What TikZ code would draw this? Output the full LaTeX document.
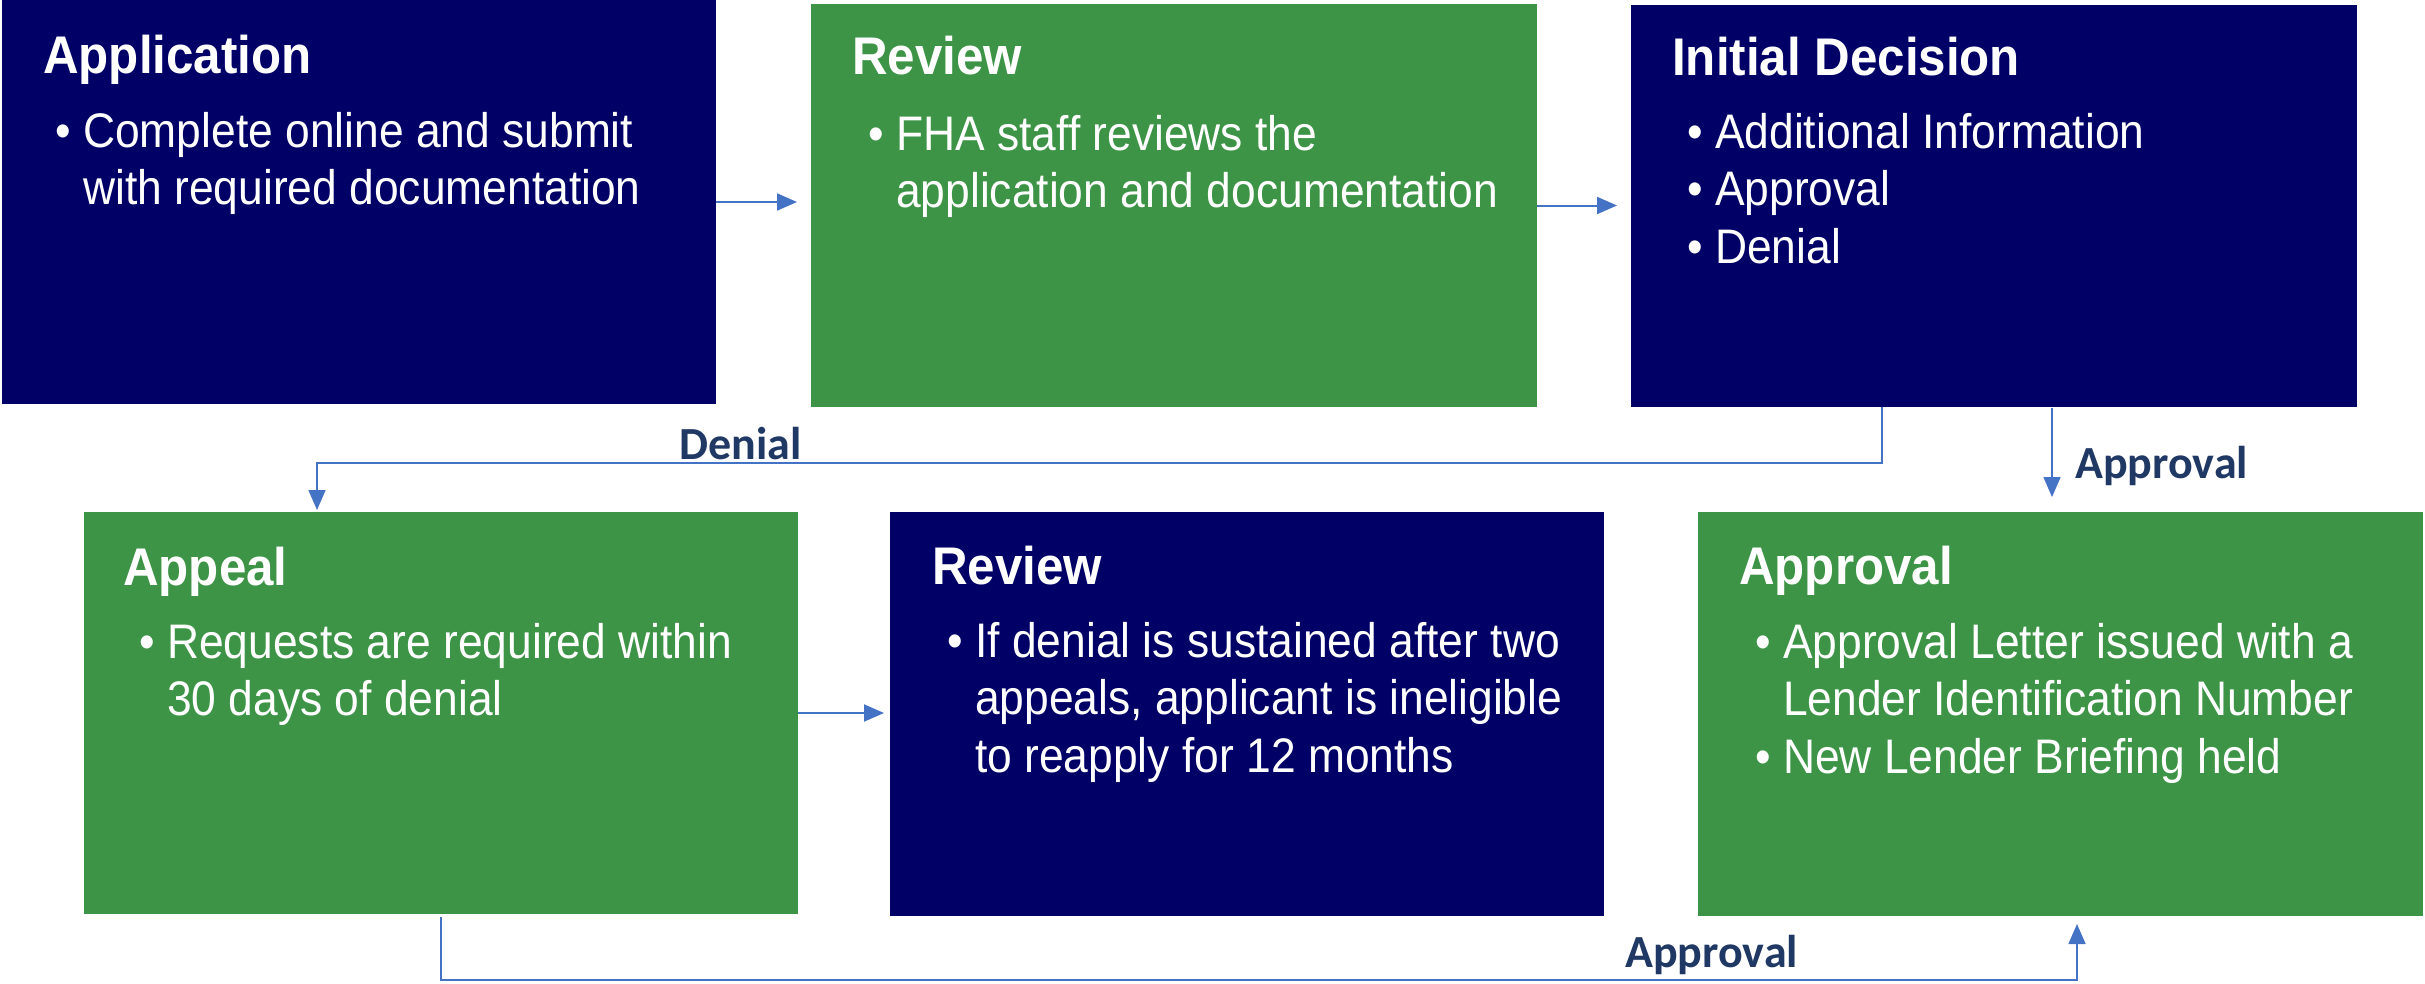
\documentclass[tikz,border=0pt]{standalone}
\usepackage{fontspec}
\usetikzlibrary{arrows.meta,calc}
\newfontfamily\boxsans[FakeStretch=0.93]{Liberation Sans}
\newfontfamily\bodysans[FakeStretch=0.915]{Liberation Sans}
\newfontfamily\labelsans{Carlito}
\definecolor{navybox}{HTML}{000066}
\definecolor{greenbox}{HTML}{3D9446}
\definecolor{linkblue}{HTML}{4472C4}
\definecolor{labelnavy}{HTML}{1F3864}
% one bulleted paragraph with hanging indent
\newcommand{\bitem}[1]{\par\noindent\hangindent=28pt\hangafter=1\makebox[28pt][l]{\textbullet}#1}
\begin{document}
\begin{tikzpicture}[x=1pt,y=-1pt,
  stage/.style={rectangle, inner sep=0pt, outer sep=0pt, anchor=north west},
  navystage/.style={stage, fill=navybox},
  greenstage/.style={stage, fill=greenbox},
  hd/.style={text=white, font=\boxsans\bfseries\fontsize{53}{60}\selectfont, inner sep=0pt, anchor=base west},
  bd/.style={text=white, font=\bodysans\fontsize{48.5}{57.5}\selectfont, inner sep=0pt, anchor=base west},
  lbl/.style={text=labelnavy, font=\labelsans\bfseries\fontsize{46}{50}\selectfont, inner sep=0pt, anchor=base west},
  link/.style={draw=linkblue, line width=2pt, -{Triangle[length=20pt,width=17pt]}},
  thinlink/.style={link, line width=1.6pt}]
\useasboundingbox (0,0) rectangle (2425,983);

% stage boxes
\node[navystage, minimum width=714pt, minimum height=404pt] (app) at (2,0) {};
\node[greenstage, minimum width=726pt, minimum height=403pt] (rev) at (811,4) {};
\node[navystage, minimum width=726pt, minimum height=402pt] (dec) at (1631,5) {};
\node[greenstage, minimum width=714pt, minimum height=402pt] (appeal) at (84,512) {};
\node[navystage, minimum width=714pt, minimum height=404pt] (rev2) at (890,512) {};
\node[greenstage, minimum width=725pt, minimum height=404pt] (appr) at (1698,512) {};

% titles
\node[hd] (appT) at ($(app.north west)+(41,73)$) {Application};
\node[hd] (revT) at ($(rev.north west)+(41,70)$) {Review};
\node[hd] (decT) at ($(dec.north west)+(41,70)$) {Initial Decision};
\node[hd] (appealT) at ($(appeal.north west)+(39,73)$) {Appeal};
\node[hd] (rev2T) at ($(rev2.north west)+(42,72)$) {Review};
\node[hd] (apprT) at ($(appr.north west)+(41,72)$) {Approval};

% bullet text
\node[bd] (appB) at ($(app.north west)+(53,147)$) {\parbox[t]{640pt}{%
  \bitem{Complete online and submit\newline with required documentation}}};
\node[bd] (revB) at ($(rev.north west)+(57,146)$) {\parbox[t]{660pt}{%
  \bitem{FHA staff reviews the\newline application and documentation}}};
\node[bd] (decB) at ($(dec.north west)+(56,143)$) {\parbox[t]{660pt}{%
  \bitem{Additional Information}\bitem{Approval}\bitem{Denial}}};
\node[bd] (appealB) at ($(appeal.north west)+(55,146)$) {\parbox[t]{650pt}{%
  \bitem{Requests are required within\newline 30 days of denial}}};
\node[bd] (rev2B) at ($(rev2.north west)+(57,145)$) {\parbox[t]{650pt}{%
  \bitem{If denial is sustained after two\newline appeals, applicant is ineligible\newline to reapply for 12 months}}};
\node[bd] (apprB) at ($(appr.north west)+(57,146)$) {\parbox[t]{660pt}{%
  \bitem{Approval Letter issued with a\newline Lender Identification Number}\bitem{New Lender Briefing held}}};

% connectors
\draw[link] (app.east) -- ([xshift=-14pt]rev.west |- app.east);
\draw[link] (rev.east) -- ([xshift=-14pt]dec.west |- rev.east);
\draw[link] (appeal.east) -- ([xshift=-6pt]rev2.west |- appeal.east);
\draw[thinlink] ($(dec.south west)+(251,0)$) -- ++(0,56) -| ($(appeal.north west)+(233,-2)$);
\draw[thinlink] ($(dec.south west)+(421,1)$) -- ($(appr.north west)+(354,-15)$);
\draw[thinlink] ($(appeal.south west)+(357,3)$) -- ++(0,63) -| ($(appr.south west)+(379,8)$);

% connector labels
\node[lbl] (denialL) at (679,459) {Denial};
\node[lbl] (approvalL1) at (2075,478) {Approval};
\node[lbl] (approvalL2) at (1625,967) {Approval};
\end{tikzpicture}
\end{document}
